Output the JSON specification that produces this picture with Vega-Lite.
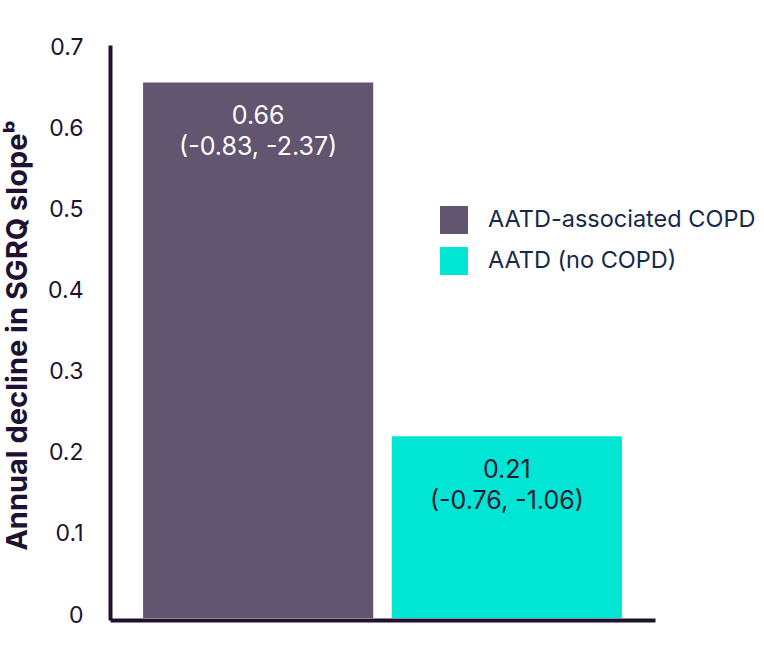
{
  "$schema": "https://vega.github.io/schema/vega-lite/v6.json",
  "background": "white",
  "autosize": {"type": "none"},
  "padding": {"left": 112, "top": 47, "right": 111, "bottom": 53},
  "width": 541,
  "height": 571,
  "data": {
    "values": [
      {"group": "AATD-associated COPD", "value": 0.66, "label": "0.66\n(-0.83, -2.37)"},
      {"group": "AATD (no COPD)", "value": 0.224, "label": "0.21\n(-0.76,  -1.06)"}
    ]
  },
  "encoding": {
    "x": {
      "field": "group",
      "type": "nominal",
      "sort": null,
      "scale": {"paddingInner": 0.0744, "paddingOuter": 0.125},
      "axis": {
        "title": null,
        "labels": false,
        "ticks": false,
        "domainColor": "#1e1230",
        "domainWidth": 4,
        "domainCap": "square",
        "offset": 2
      }
    },
    "y": {
      "field": "value",
      "type": "quantitative",
      "scale": {"domain": [0, 0.7037], "nice": false},
      "axis": {
        "title": "Annual decline in SGRQ slopeᵇ",
        "titleFont": "Inter",
        "titleFontSize": 29,
        "titleFontWeight": "bold",
        "titleColor": "#1e1230",
        "titleX": -93,
        "titleY": 288,
        "titleAngle": -90,
        "titleAlign": "center",
        "titleBaseline": "middle",
        "titleLimit": 600,
        "values": [0, 0.1, 0.2, 0.3, 0.4, 0.5, 0.6, 0.7],
        "format": ".1~f",
        "labelFont": "Inter",
        "labelFontSize": 23,
        "labelColor": "#1e1230",
        "labelPadding": 27,
        "labelOffset": -3,
        "ticks": false,
        "grid": false,
        "domainColor": "#1e1230",
        "domainWidth": 4,
        "domainCap": "square",
        "offset": 2
      }
    }
  },
  "layer": [
    {
      "mark": {"type": "bar"},
      "encoding": {
        "color": {
          "field": "group",
          "type": "nominal",
          "sort": null,
          "scale": {"range": ["#625570", "#00e5d4"]},
          "legend": {
            "title": null,
            "orient": "none",
            "legendX": 328,
            "legendY": 159,
            "symbolType": "square",
            "symbolSize": 784,
            "symbolStrokeWidth": 0,
            "labelFont": "Inter",
            "labelFontSize": 23.5,
            "labelColor": "#15294a",
            "labelOffset": 20,
            "labelLimit": 400,
            "rowPadding": 13
          }
        }
      }
    },
    {
      "mark": {
        "type": "text",
        "baseline": "top",
        "align": "center",
        "dy": 22,
        "font": "Inter",
        "fontSize": 25,
        "lineHeight": 31,
        "lineBreak": "\n"
      },
      "encoding": {
        "text": {"field": "label"},
        "color": {
          "condition": {"test": "datum.group === 'AATD-associated COPD'", "value": "white"},
          "value": "#1e1a33"
        }
      }
    }
  ],
  "config": {"view": {"stroke": null}}
}
